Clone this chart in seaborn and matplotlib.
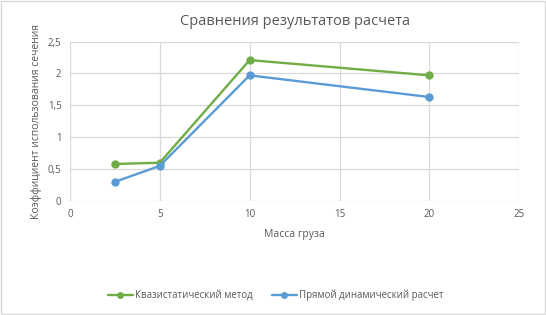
import matplotlib
matplotlib.use("Agg")
import matplotlib.pyplot as plt
import seaborn as sns
import pandas as pd
from matplotlib.patches import Rectangle

mass = [2.5, 5, 10, 20]
quasi = [0.58, 0.60, 2.21, 1.97]
direct = [0.30, 0.55, 1.97, 1.63]
series_names = ["Квазистатический метод", "Прямой динамический расчет"]
title = "Сравнения результатов расчета"
xlabel = "Масса груза"
ylabel = "Коэффициент использования сечения"
yticks = [0, 0.5, 1, 1.5, 2, 2.5]
ytick_labels = ["0", "0,5", "1", "1,5", "2", "2,5"]
xticks = [0, 5, 10, 15, 20, 25]

df = pd.DataFrame({
    "x": mass * 2,
    "y": quasi + direct,
    "s": [series_names[0]] * len(mass) + [series_names[1]] * len(mass),
})

sns.set_theme(style="white")
plt.rcParams["font.family"] = ["Open Sans", "DejaVu Sans"]

fig = plt.figure(figsize=(5.46, 3.15), dpi=100)
ax = fig.add_axes([0.128, 0.362, 0.823, 0.506])
sns.lineplot(data=df, x="x", y="y", hue="s", palette=["#70ad47", "#5b9bd5"],
             marker="o", markersize=6, markeredgewidth=0, linewidth=1.7,
             ax=ax, legend=True)
ax.set_xlim(0, 25)
ax.set_ylim(0, 2.5)
ax.set_xticks(xticks)
ax.set_xticklabels([str(t) for t in xticks])
ax.set_yticks(yticks)
ax.set_yticklabels(ytick_labels)
ax.grid(True, color="#d9d9d9", linewidth=0.9)
for s in ax.spines.values():
    s.set_visible(False)
ax.tick_params(axis="both", colors="#595959", labelsize=7, length=0, pad=6)
ax.set_xlabel(xlabel, color="#595959", fontsize=7.5, labelpad=6)
ax.set_ylabel(ylabel, color="#595959", fontsize=7.5, labelpad=4)
ax.set_title(title, color="#595959", fontsize=10.5, pad=12)

handles, labels = ax.get_legend_handles_labels()
for h in handles:
    h.set_markersize(5)
ax.legend(handles, labels, loc="center", bbox_to_anchor=(0.505, 0.063),
          bbox_transform=fig.transFigure, ncol=2, frameon=False,
          fontsize=6.9, labelcolor="#595959", handlelength=2.6,
          columnspacing=2.0, handletextpad=0.25)

fig.patches.append(Rectangle((0.002, 0.003), 0.996, 0.994, transform=fig.transFigure,
                             fill=False, edgecolor="#d9d9d9", linewidth=1))
fig.savefig("out.png", dpi=100)
